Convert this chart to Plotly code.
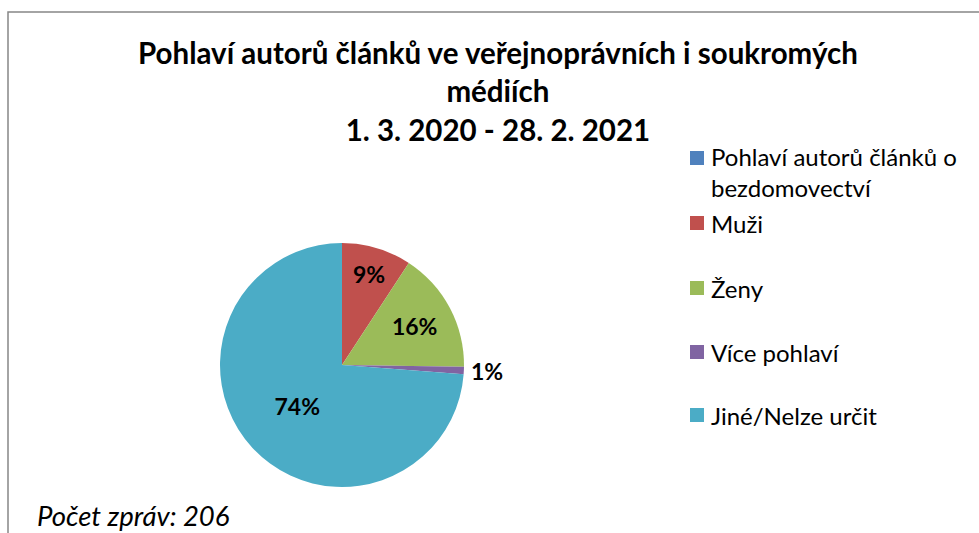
import plotly.graph_objects as go

# ---- data ----
categories = ["Pohlaví autorů článků o bezdomovectví", "Muži", "Ženy", "Více pohlaví", "Jiné/Nelze určit"]
counts = [0, 19, 33, 2, 152]
colors = ["#4F81BD", "#C0504D", "#9BBB59", "#8064A2", "#4BACC6"]
legend_text = ["Pohlaví autorů článků o<br>bezdomovectví", "Muži", "Ženy", "Více pohlaví", "Jiné/Nelze určit"]
title_text = "Pohlaví autorů článků ve veřejnoprávních i soukromých<br>médiích<br>1. 3. 2020 - 28. 2. 2021"
note_text = "Počet zpráv: 206"

W, H = 979, 533
FONT = "Lato"

def px_x(x):
    return x / W

def px_y(y):
    return 1 - y / H

text_pos = ["none", "inside", "inside", "outside", "inside"]

fig = go.Figure()
fig.add_trace(go.Pie(
    labels=categories,
    values=counts,
    sort=False,
    direction="clockwise",
    rotation=0,
    marker=dict(colors=colors, line=dict(width=0)),
    texttemplate="%{percent:.0%}",
    textposition=text_pos,
    insidetextorientation="horizontal",
    textfont=dict(family=FONT, size=23, color="black", weight="bold"),
    showlegend=False,
    domain=dict(x=[px_x(220), px_x(464)], y=[px_y(487), px_y(243)]),
    hoverinfo="label+value+percent",
))

shapes = [dict(type="rect", xref="paper", yref="paper",
               x0=px_x(8), x1=1.05, y0=-0.05, y1=px_y(12),
               line=dict(color="#878787", width=1.5), fillcolor="rgba(0,0,0,0)")]
annotations = []

# title
annotations.append(dict(text=title_text, xref="paper", yref="paper",
                        x=px_x(498), y=px_y(33), xanchor="center", yanchor="top",
                        showarrow=False, align="center",
                        font=dict(family=FONT, size=29.5, color="black", weight="bold")))

# legend
leg_y = [158, 223, 288, 352, 415]
for lbl, col, y in zip(legend_text, colors, leg_y):
    shapes.append(dict(type="rect", xref="paper", yref="paper",
                       x0=px_x(690), x1=px_x(704), y0=px_y(y + 7), y1=px_y(y - 7),
                       fillcolor=col, line=dict(width=0)))
    multi = "<br>" in lbl
    annotations.append(dict(text=lbl, xref="paper", yref="paper",
                            x=px_x(709), y=px_y(y - 18) if multi else px_y(y),
                            xanchor="left", yanchor="top" if multi else "middle",
                            showarrow=False, align="left",
                            font=dict(family=FONT, size=24, color="black")))

# footnote
annotations.append(dict(text="<i>" + note_text + "</i>", xref="paper", yref="paper",
                        x=px_x(35), y=px_y(515), xanchor="left", yanchor="middle",
                        showarrow=False,
                        font=dict(family=FONT, size=27.5, color="black")))

fig.update_layout(
    width=W, height=H,
    margin=dict(l=0, r=0, t=0, b=0),
    paper_bgcolor="white", plot_bgcolor="white",
    shapes=shapes, annotations=annotations,
    uniformtext=dict(minsize=23, mode="show"),
)

fig.write_html("out.html", config={"displayModeBar": False},
               post_script="document.body.style.margin='0';")
